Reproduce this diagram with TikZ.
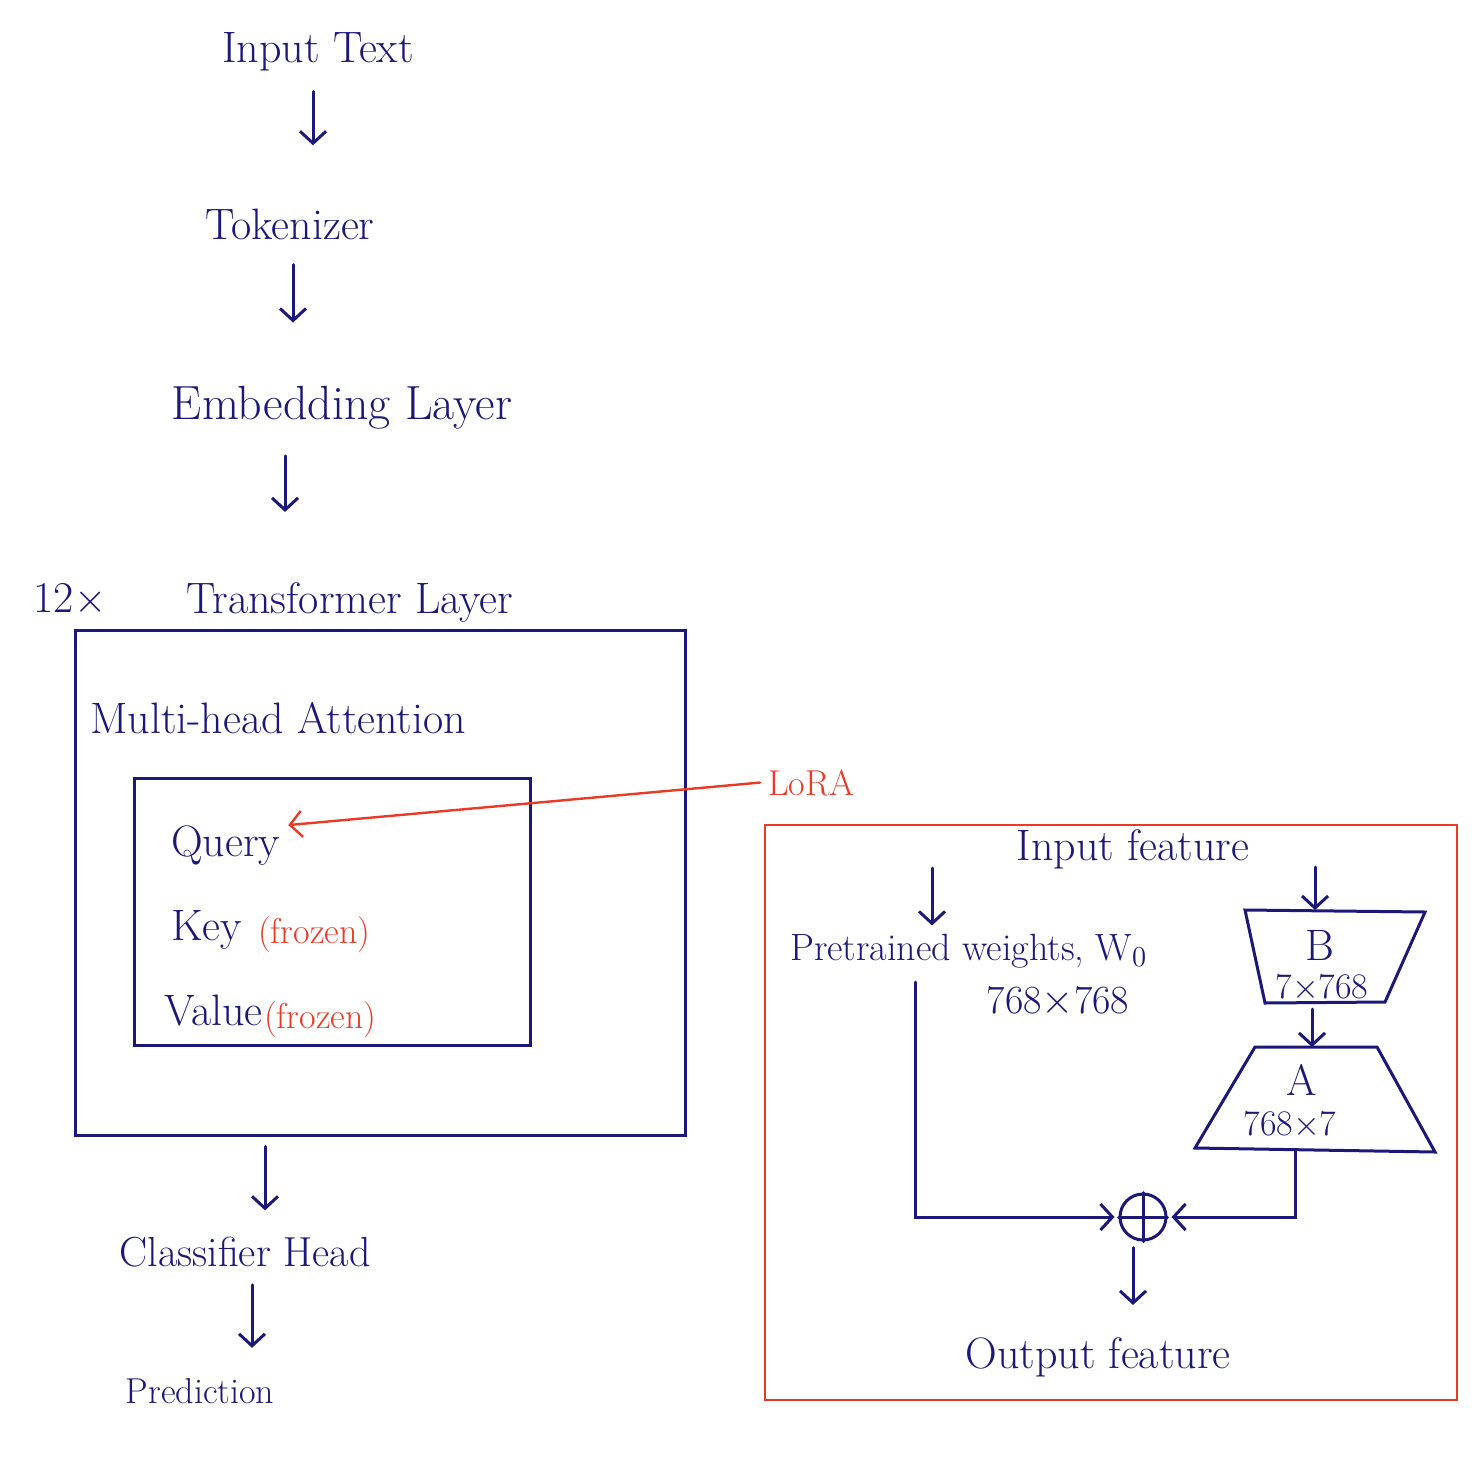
\documentclass[tikz,border=0pt]{standalone}
\usetikzlibrary{arrows.meta}
\definecolor{ink}{RGB}{28,24,120}
\definecolor{lora}{RGB}{234,58,38}
\tikzset{
 arr/.style={-{Straight Barb[length=6pt,width=13pt]}},
 midfont/.style={font=\fontsize{20}{24}\selectfont},
 smallfont/.style={font=\fontsize{18}{21}\selectfont},
}
\begin{document}
\begin{tikzpicture}[x=.5pt,y=-.5pt,font=\fontsize{22}{26}\selectfont,color=ink,line width=1.5pt,line cap=round]
\useasboundingbox (0,0) rectangle (1475,1470);
% main flow
\node[anchor=base] (input) at (318,63) {Input Text};
\node[anchor=base] (tok) at (290,240) {Tokenizer};
\node[anchor=base,font=\fontsize{24}{28}\selectfont] (emb) at (342,420) {Embedding Layer};
\node[anchor=base] (times) at (70,612) {12$\times$};
\node[anchor=base] (trl) at (350,613) {Transformer Layer};
\node[draw,minimum width=305pt,minimum height=252.5pt] (tbox) at (380,882.5) {};
\node[anchor=base west] (mha) at (82,733) {Multi-head Attention};
\node[draw,minimum width=198pt,minimum height=133.5pt] (qkv) at (332,911.5) {};
\node[anchor=base west] (query) at (163,856) {Query};
\node[anchor=base west] (key) at (163,940) {Key};
\node[anchor=base west] (value) at (156,1025) {Value};
\node[anchor=base west,smallfont,lora] (fkey) at (250,943) {(frozen)};
\node[anchor=base west,smallfont,lora] (fval) at (256,1028) {(frozen)};
\node[anchor=base,font=\fontsize{21}{25}\selectfont] (cls) at (245,1266) {Classifier Head};
\node[anchor=base,smallfont] (pred) at (200,1403) {Prediction};
\foreach \a/\b/\dx/\s/\e in {input/tok/-2.5/6/28, tok/emb/1.5/8/28, emb/trl/-28.5/9/31, tbox/cls/-57.5/5/9, cls/pred/3.5/5/11}{
 \draw[arr,shorten <=\s pt,shorten >=\e pt] ([xshift=\dx pt]\a.south) -- ([xshift=\dx pt]\a.south |- \b.north);
}
% LoRA part
\node[anchor=base west,smallfont,lora] (lora) at (760,795) {LoRA};
\draw[arr,lora,line width=1.2pt] (lora.west) -- ([yshift=10pt]query.east);
\node[draw=lora,line width=1.2pt,minimum width=346pt,minimum height=287.5pt] (lbox) at (1111,1112.5) {};
\node[anchor=base] (infeat) at (1133,860) {Input feature};
\node[anchor=base west,font=\fontsize{19}{22}\selectfont] (pw) at (782,960) {Pretrained weights, W$_0$};
\node[anchor=base,midfont] (wdim) at (1058,1013) {768$\times$768};
\coordinate (wIn) at (932,868);
\draw[arr] (wIn) -- (wIn |- pw.north);
% B and A
\draw (1245,910) -- (1425,912) -- (1385,1002) -- (1265,1003) -- cycle;
\draw (1255,1047) -- (1377,1047) -- (1435,1152) -- (1195,1148) -- cycle;
\coordinate (bIn) at (1315,867);
\coordinate (Bt) at (1315,910);
\coordinate (Bb) at (1312,1003);
\coordinate (At) at (1312,1047);
\coordinate (Ab) at (1295,1150);
\node[anchor=base] (bname) at (1320,960) {B};
\node[anchor=base,smallfont] (bdim) at (1322,998) {7$\times$768};
\node[anchor=base] (aname) at (1302,1095) {A};
\node[anchor=base,smallfont] (adim) at (1290,1135) {768$\times$7};
\draw[arr] (bIn) -- (Bt);
\draw[arr,shorten <=3pt] (Bb) -- (At);
% sum
\node[draw,circle,minimum size=23pt,inner sep=0pt] (plus) at (1143,1217) {};
\draw (plus.north) -- (plus.south) (plus.west) -- (plus.east);
\coordinate (wOut) at (915,982);
\draw[arr,shorten >=2pt] (wOut) |- (plus.west);
\draw[arr,shorten >=2pt] (Ab) |- (plus.east);
\node[anchor=base] (out) at (1098,1368) {Output feature};
\draw[arr,shorten <=3pt,shorten >=12pt] ([xshift=-5pt]plus.south) -- ([xshift=-5pt]plus.south |- out.north);
\end{tikzpicture}
\end{document}
